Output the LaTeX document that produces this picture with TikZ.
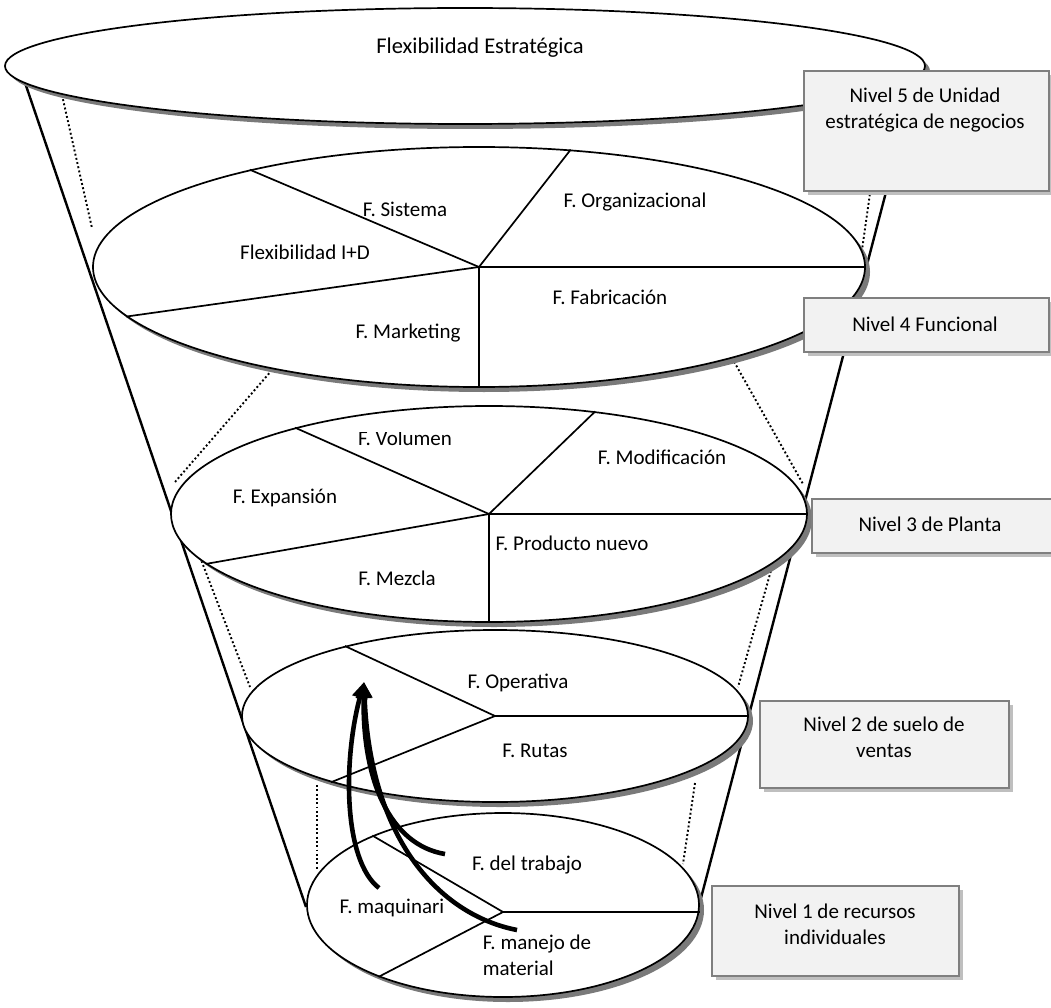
\documentclass[tikz,border=0pt]{standalone}
\usepackage{fontspec}
\setmainfont{Carlito}
\usetikzlibrary{shapes.geometric,arrows.meta,shadows}
\definecolor{shadowgray}{HTML}{7A7A7A}
\definecolor{boxfill}{HTML}{F2F2F2}
\definecolor{boxedge}{HTML}{7F7F7F}
\definecolor{boxshadow}{HTML}{BFBFBF}
\begin{document}
\begin{tikzpicture}[x=1pt,y=-1pt,
  levelring/.style={ellipse, draw=black, line width=1.7pt, fill=white, inner sep=0pt,
    general shadow={fill=shadowgray, shadow xshift=5pt, shadow yshift=-5pt}},
  lvlbox/.style={rectangle, draw=boxedge, line width=1.6pt, fill=boxfill, inner sep=0pt,
    anchor=north west,
    general shadow={fill=boxshadow, shadow xshift=4pt, shadow yshift=-4pt}},
  lbl/.style={font=\fontsize{21}{26}\selectfont, inner sep=0pt, align=center},
  spoke/.style={line width=1.7pt},
  funnel/.style={line width=2.4pt},
  guide/.style={line width=1.9pt, dash pattern=on 1.9pt off 2.4pt},
  flow/.style={line width=4.6pt, -{Triangle[length=16pt,width=15pt]}}
]
\useasboundingbox (0,0) rectangle (1051,1008);
\fill[white] (0,0) rectangle (1051,1008);

% outer walls of the funnel
\coordinate (fl1) at (20,68);
\coordinate (fl2) at (306,907);
\coordinate (fr1) at (918,70);
\coordinate (fr2) at (701,898);
\draw[funnel] (fl1) -- (fl2);
\draw[funnel] (fr1) -- (fr2);

% dotted inner guides between the levels
\coordinate (d1a) at (62,95);   \coordinate (d1b) at (92,228);
\coordinate (d2a) at (272,370); \coordinate (d2b) at (175,482);
\coordinate (d3a) at (200,557); \coordinate (d3b) at (250,687);
\coordinate (d4a) at (317,785); \coordinate (d4b) at (317,870);
\coordinate (r1a) at (880,122); \coordinate (r1b) at (862,250);
\coordinate (r2a) at (732,358); \coordinate (r2b) at (803,484);
\coordinate (r3a) at (772,567); \coordinate (r3b) at (738,687);
\coordinate (r4a) at (695,783); \coordinate (r4b) at (683,864);
\foreach \p in {d1,d2,d3,d4,r1,r2,r3,r4}
  \draw[guide] (\p a) -- (\p b);

% level 5
\node[levelring, minimum width=920, minimum height=116] (e5) at (465,66) {};
\node[lbl, font=\fontsize{22.5}{26}\selectfont] (t5) at (480,48) {Flexibilidad Estratégica};

% level 4
\node[levelring, minimum width=772, minimum height=240] (e4) at (479,267) {};
\draw[spoke] (e4.center) -- (e4.52.6);
\draw[spoke] (e4.center) -- (e4.east);
\draw[spoke] (e4.center) -- (e4.south);
\draw[spoke] (e4.center) -- (e4.188.3);
\draw[spoke] (e4.center) -- (e4.157.5);
\node[lbl] (sis) at (405,209) {F. Sistema};
\node[lbl] (org) at (635,202) {F. Organizacional};
\node[lbl] (imd) at (305,252) {Flexibilidad I+D};
\node[lbl] (fab) at (610,297) {F. Fabricación};
\node[lbl] (mkt) at (408,333) {F. Marketing};

% level 3
\node[levelring, minimum width=636, minimum height=216] (e3) at (489,514) {};
\draw[spoke] (e3.center) -- (e3.44.5);
\draw[spoke] (e3.center) -- (e3.east);
\draw[spoke] (e3.center) -- (e3.south);
\draw[spoke] (e3.center) -- (e3.190.7);
\draw[spoke] (e3.center) -- (e3.156);
\begin{scope}
  \clip (340,432) rectangle (480,460);
  \node[lbl] (vol) at (405,438) {F. Volumen};
\end{scope}
\node[lbl] (mod) at (662,457) {F. Modificación};
\node[lbl] (exp) at (285,498) {F. Expansión};
\node[lbl] (pnv) at (572,543) {F. Producto nuevo};
\node[lbl] (mez) at (397,578) {F. Mezcla};

% level 2
\node[levelring, minimum width=506, minimum height=172] (e2) at (495,716) {};
\draw[spoke] (e2.center) -- (e2.east);
\draw[spoke] (e2.center) -- (e2.155.6);
\draw[spoke] (e2.center) -- (e2.202);
\node[lbl] (ope) at (518,683) {F. Operativa};
\node[lbl] (rut) at (535,751) {F. Rutas};

% level 1
\node[levelring, minimum width=392, minimum height=184] (e1) at (503,905) {};
\coordinate (c1) at (503,912);
\draw[spoke] (c1) -- (e1.152.7);
\draw[spoke] (c1) -- (e1.210.4);
\draw[spoke] (c1) -- (e1.east |- c1);
\node[lbl] (trb) at (527,865) {F. del trabajo};
\node[lbl] (maq) at (392,908) {F. maquinari};
\node[lbl, align=left] (man) at (537,955) {F. manejo de\\material};

% resources feeding upward
\coordinate (tip) at (364,682);
\coordinate (sA) at (379,888);
\coordinate (sB) at (445,854);
\coordinate (sC) at (517,930);
\draw[flow] (sA) .. controls (343,860) and (343,760) .. (tip);
\draw[flow] (sB) .. controls (390,845) and (362,780) .. (tip);
\draw[flow] (sC) .. controls (440,915) and (370,840) .. (tip);

% level captions
\node[lvlbox, minimum width=245, minimum height=120] (b5) at (803,70) {};
\node[lbl] (n5) at (925,110) {Nivel 5 de Unidad\\estratégica de negocios};
\node[lvlbox, minimum width=245, minimum height=54] (b4) at (803,297) {};
\node[lbl] (n4) at (925,324) {Nivel 4 Funcional};
\node[lvlbox, minimum width=242, minimum height=54] (b3) at (811,498) {};
\node[lbl] (n3) at (930,524) {Nivel 3 de Planta};
\node[lvlbox, minimum width=249, minimum height=87] (b2) at (759,700) {};
\node[lbl] (n2) at (884,737) {Nivel 2 de suelo de\\ventas};
\node[lvlbox, minimum width=247, minimum height=90] (b1) at (711,885) {};
\node[lbl] (n1) at (835,924) {Nivel 1 de recursos\\individuales};
\end{tikzpicture}
\end{document}
